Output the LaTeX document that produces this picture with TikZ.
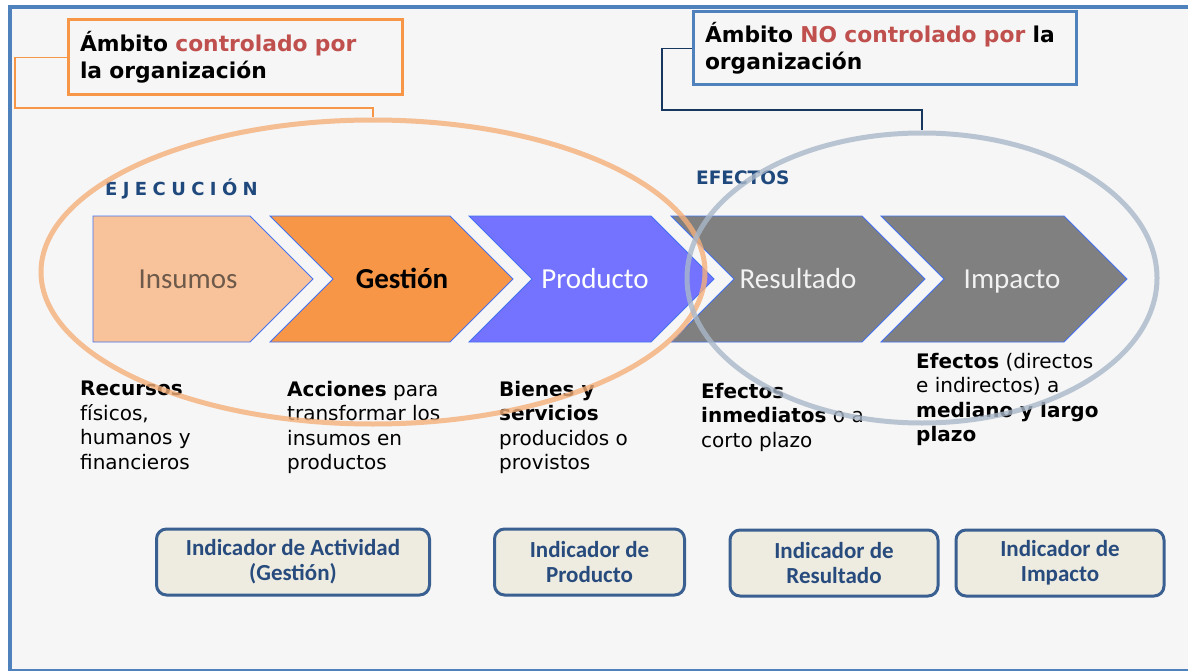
\documentclass[tikz,border=0pt]{standalone}
\usepackage{fontspec}
\setmainfont{DejaVu Sans}
\newfontfamily\calfont{Carlito}
\newfontfamily\spacedfont[LetterSpace=30]{DejaVu Sans}
\usetikzlibrary{
  shapes.geometric,
  positioning,
}
\definecolor{frameblue}{RGB}{79,129,189}
\definecolor{fondo}{RGB}{246,246,246}
\definecolor{ambnaranja}{RGB}{247,150,70}
\definecolor{ambrojo}{RGB}{192,80,77}
\definecolor{ambazul}{RGB}{79,129,189}
\definecolor{guiaazul}{RGB}{23,55,94}
\definecolor{chevline}{RGB}{68,114,240}
\definecolor{insufill}{RGB}{248,195,154}
\definecolor{insutext}{RGB}{110,90,75}
\definecolor{gestfill}{RGB}{247,150,70}
\definecolor{prodfill}{RGB}{115,115,255}
\definecolor{efecfill}{RGB}{128,128,128}
\definecolor{elipnaranja}{RGB}{245,175,122}
\definecolor{elipgris}{RGB}{170,184,202}
\definecolor{titazul}{RGB}{31,73,125}
\definecolor{indline}{RGB}{58,95,145}
\definecolor{indfill}{RGB}{238,236,225}
\definecolor{indtext}{RGB}{40,75,125}
\tikzset{
  etapa/.style={
    draw=chevline,
    line width=0.8pt,
    line join=miter,
  },
  etiqueta/.style={
    inner sep=0pt,
    text height=20pt,
    text depth=6pt,
    font=\calfont\fontsize{29pt}{31pt}\selectfont,
  },
  ambito/.style={
    rectangle,
    fill=fondo,
    line width=3pt,
    inner sep=0pt,
    align=left,
    font=\bfseries\fontsize{21.8pt}{27pt}\selectfont,
  },
  guia/.style={
    line width=1.2pt,
  },
  elipse/.style={
    ellipse,
    inner sep=0pt,
    line width=5pt,
    draw opacity=0.8,
  },
  desc/.style={
    anchor=north west,
    inner sep=0pt,
    align=left,
    font=\fontsize{20pt}{24.5pt}\selectfont,
  },
  titulo/.style={
    anchor=west,
    inner sep=0pt,
    text=titazul,
  },
  indicador/.style={
    rectangle,
    rounded corners=10pt,
    draw=indline,
    line width=3pt,
    fill=indfill,
    text=indtext,
    align=center,
    minimum height=66pt,
    font=\calfont\bfseries\fontsize{23pt}{25pt}\selectfont,
  },
}

\begin{document}
\begin{tikzpicture}[x=1pt, y=-1pt]

  \useasboundingbox (0,0) rectangle (1188,671);
  \clip (0,0) rectangle (1188,671);

  % Frame
  \draw[frameblue, line width=4pt, fill=fondo] (10,7) rectangle (1200,670.5);

  % Stages
  \filldraw[etapa, fill=insufill] (93,216) -- (250,216) -- (313,279) -- (250,342) -- (93,342) -- cycle;
  \filldraw[etapa, fill=gestfill] (270,216) -- (450,216) -- (513,279) -- (450,342) -- (270,342) -- (333,279) -- cycle;
  \filldraw[etapa, fill=prodfill] (469,216) -- (651,216) -- (714,279) -- (651,342) -- (469,342) -- (532,279) -- cycle;
  \filldraw[etapa, fill=efecfill] (671,216) -- (862,216) -- (925,279) -- (862,342) -- (671,342) -- (734,279) -- cycle;
  \filldraw[etapa, fill=efecfill] (881,216) -- (1064,216) -- (1127,279) -- (1064,342) -- (881,342) -- (944,279) -- cycle;

  \node (insumos) [etiqueta, text=insutext] at (188,281) {Insumos};
  \node (gestion) [etiqueta, font=\calfont\bfseries\fontsize{29pt}{31pt}\selectfont] at (402,281) {Gestión};
  \node (producto) [etiqueta, text=white] at (595,281) {Producto};
  \node (resultado) [etiqueta, text=white!95!black] at (798,281) {Resultado};
  \node (impacto) [etiqueta, text=white!95!black] at (1012,281) {Impacto};

  % Titles
  \node (ejecucion) [titulo, font=\spacedfont\bfseries\fontsize{18pt}{19pt}\selectfont]
    at (105,189) {EJECUCIÓN};
  \node (efectos) [titulo, font=\bfseries\fontsize{18.5pt}{20pt}\selectfont]
    at (696,178) {EFECTOS};

  % Descriptions
  \node (d_insumos) [desc] at (80,381)
    {\textbf{Recursos}\\físicos,\\humanos y\\financieros};
  \node (d_gestion) [desc] at (287,381)
    {\textbf{Acciones} para\\transformar los\\insumos en\\productos};
  \node (d_producto) [desc] at (499,381)
    {\textbf{Bienes y}\\\textbf{servicios}\\producidos o\\provistos};
  \node (d_resultado) [desc] at (701,383)
    {\textbf{Efectos}\\\textbf{inmediatos} o a\\corto plazo};
  \node (d_impacto) [desc] at (916,353)
    {\textbf{Efectos} (directos\\e indirectos) a\\\textbf{mediano y largo}\\\textbf{plazo}};

  % Indicators
  \node (i_gestion) [indicador, minimum width=273pt] at (293,562)
    {Indicador de Actividad\\(Gestión)};
  \node (i_producto) [indicador, minimum width=190pt] at (589.5,562)
    {Indicador de\\Producto};
  \node (i_resultado) [indicador, minimum width=208pt] at (834,563)
    {Indicador de\\Resultado};
  \node (i_impacto) [indicador, minimum width=208pt] at (1060,563)
    {Indicador de\\Impacto};

  % Scopes
  \node (e_ctrl) [elipse, draw=elipnaranja, minimum width=664pt,
    minimum height=304pt] at (373,272) {};
  \node (e_noctrl) [elipse, draw=elipgris, minimum width=470pt,
    minimum height=290pt] at (922,278) {};

  % Callouts
  \node (ctrl) [ambito, draw=ambnaranja, minimum width=334pt, minimum height=75pt,
    text width=310pt] at (235,57.5)
    {Ámbito \textcolor{ambrojo}{controlado por}\\la organización};
  \node (noctrl) [ambito, draw=ambazul, minimum width=383pt, minimum height=73pt,
    text width=359pt] at (884.5,48.5)
    {Ámbito \textcolor{ambrojo}{NO controlado por} la\\organización};

  \coordinate (codo_ctrl) at (15,108);
  \coordinate (codo_noctrl) at (662,110);
  \draw [guia, draw=ambnaranja] (ctrl.west) -| (codo_ctrl) -| (e_ctrl.north);
  \draw [guia, draw=guiaazul] (noctrl.west) -| (codo_noctrl) -| (e_noctrl.north);

\end{tikzpicture}
\end{document}
